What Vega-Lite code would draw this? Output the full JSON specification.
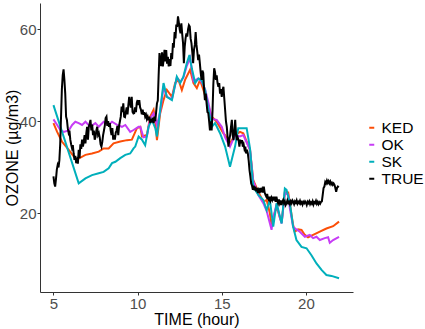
{
  "$schema": "https://vega.github.io/schema/vega-lite/v6.json",
  "width": 313,
  "height": 289,
  "autosize": {"type": "none"},
  "padding": {"left": 40, "top": 3, "right": 72, "bottom": 37},
  "background": "white",
  "config": {
    "view": {"stroke": null},
    "font": "Liberation Sans",
    "axis": {"grid": false, "domainColor": "#333333", "tickColor": "#333333", "labelColor": "#4D4D4D", "titleColor": "#000000", "titleFontWeight": "normal", "labelFontSize": 15, "titleFontSize": 16, "tickSize": 3, "domainWidth": 1, "tickWidth": 1, "labelPadding": 1}
  },
  "data": {"values": [
{"s":"KED","h":5.00,"v":39.6},{"s":"KED","h":5.22,"v":37.7},{"s":"KED","h":5.50,"v":35.6},{"s":"KED","h":5.91,"v":33.8},{"s":"KED","h":6.30,"v":31.9},{"s":"KED","h":6.50,"v":31.9},{"s":"KED","h":6.90,"v":32.7},{"s":"KED","h":7.29,"v":33.0},{"s":"KED","h":7.69,"v":33.4},{"s":"KED","h":7.98,"v":34.1},{"s":"KED","h":8.28,"v":34.1},{"s":"KED","h":8.57,"v":35.2},{"s":"KED","h":8.97,"v":35.6},{"s":"KED","h":9.37,"v":35.9},{"s":"KED","h":9.66,"v":36.0},{"s":"KED","h":9.96,"v":38.5},{"s":"KED","h":10.16,"v":38.8},{"s":"KED","h":10.26,"v":36.7},{"s":"KED","h":10.55,"v":37.0},{"s":"KED","h":10.75,"v":41.0},{"s":"KED","h":10.95,"v":42.5},{"s":"KED","h":11.05,"v":40.0},{"s":"KED","h":11.15,"v":35.9},{"s":"KED","h":11.34,"v":41.7},{"s":"KED","h":11.54,"v":44.6},{"s":"KED","h":11.74,"v":46.8},{"s":"KED","h":12.04,"v":45.3},{"s":"KED","h":12.23,"v":48.3},{"s":"KED","h":12.43,"v":49.0},{"s":"KED","h":12.63,"v":46.8},{"s":"KED","h":12.82,"v":49.0},{"s":"KED","h":13.12,"v":51.2},{"s":"KED","h":13.32,"v":48.3},{"s":"KED","h":13.52,"v":47.2},{"s":"KED","h":13.71,"v":49.0},{"s":"KED","h":13.91,"v":46.8},{"s":"KED","h":14.21,"v":43.2},{"s":"KED","h":14.41,"v":41.0},{"s":"KED","h":14.70,"v":39.9},{"s":"KED","h":15.09,"v":37.4},{"s":"KED","h":15.20,"v":37.0},{"s":"KED","h":15.49,"v":35.2},{"s":"KED","h":15.79,"v":37.0},{"s":"KED","h":16.08,"v":37.7},{"s":"KED","h":16.28,"v":37.4},{"s":"KED","h":16.68,"v":33.8},{"s":"KED","h":16.87,"v":27.2},{"s":"KED","h":17.20,"v":24.5},{"s":"KED","h":17.47,"v":22.5},{"s":"KED","h":17.67,"v":22.9},{"s":"KED","h":17.86,"v":20.0},{"s":"KED","h":17.96,"v":17.5},{"s":"KED","h":18.06,"v":19.0},{"s":"KED","h":18.26,"v":21.5},{"s":"KED","h":18.46,"v":19.0},{"s":"KED","h":18.56,"v":18.0},{"s":"KED","h":18.75,"v":24.5},{"s":"KED","h":18.95,"v":24.5},{"s":"KED","h":19.05,"v":22.0},{"s":"KED","h":19.24,"v":17.5},{"s":"KED","h":19.34,"v":16.0},{"s":"KED","h":19.54,"v":16.5},{"s":"KED","h":19.74,"v":16.4},{"s":"KED","h":19.94,"v":15.3},{"s":"KED","h":20.13,"v":14.8},{"s":"KED","h":20.43,"v":15.3},{"s":"KED","h":20.83,"v":16.0},{"s":"KED","h":21.22,"v":16.7},{"s":"KED","h":21.62,"v":17.2},{"s":"KED","h":21.97,"v":18.2},
{"s":"OK","h":5.00,"v":40.4},{"s":"OK","h":5.22,"v":39.2},{"s":"OK","h":5.41,"v":38.1},{"s":"OK","h":5.61,"v":37.7},{"s":"OK","h":5.91,"v":38.0},{"s":"OK","h":6.11,"v":39.2},{"s":"OK","h":6.30,"v":39.9},{"s":"OK","h":6.50,"v":39.6},{"s":"OK","h":6.70,"v":39.2},{"s":"OK","h":6.90,"v":39.9},{"s":"OK","h":7.19,"v":38.8},{"s":"OK","h":7.49,"v":39.6},{"s":"OK","h":7.69,"v":38.8},{"s":"OK","h":7.98,"v":39.9},{"s":"OK","h":8.28,"v":39.2},{"s":"OK","h":8.48,"v":39.9},{"s":"OK","h":8.78,"v":39.2},{"s":"OK","h":9.07,"v":38.8},{"s":"OK","h":9.27,"v":39.2},{"s":"OK","h":9.56,"v":37.7},{"s":"OK","h":9.76,"v":38.1},{"s":"OK","h":10.06,"v":38.8},{"s":"OK","h":10.16,"v":38.8},{"s":"OK","h":10.35,"v":36.5},{"s":"OK","h":10.55,"v":36.7},{"s":"OK","h":10.75,"v":40.6},{"s":"OK","h":10.95,"v":41.7},{"s":"OK","h":11.15,"v":39.2},{"s":"OK","h":11.34,"v":42.0},{"s":"OK","h":11.54,"v":47.5},{"s":"OK","h":11.74,"v":45.3},{"s":"OK","h":12.04,"v":44.8},{"s":"OK","h":12.33,"v":49.5},{"s":"OK","h":12.53,"v":48.5},{"s":"OK","h":12.72,"v":49.5},{"s":"OK","h":12.92,"v":52.0},{"s":"OK","h":13.12,"v":53.8},{"s":"OK","h":13.32,"v":48.7},{"s":"OK","h":13.61,"v":49.3},{"s":"OK","h":13.81,"v":48.5},{"s":"OK","h":14.01,"v":47.0},{"s":"OK","h":14.21,"v":44.0},{"s":"OK","h":14.41,"v":40.5},{"s":"OK","h":14.70,"v":40.3},{"s":"OK","h":15.00,"v":38.8},{"s":"OK","h":15.20,"v":36.5},{"s":"OK","h":15.49,"v":34.5},{"s":"OK","h":15.79,"v":37.0},{"s":"OK","h":16.08,"v":36.7},{"s":"OK","h":16.28,"v":37.0},{"s":"OK","h":16.68,"v":33.8},{"s":"OK","h":16.87,"v":27.0},{"s":"OK","h":17.20,"v":23.8},{"s":"OK","h":17.47,"v":22.2},{"s":"OK","h":17.67,"v":20.5},{"s":"OK","h":17.96,"v":16.4},{"s":"OK","h":18.06,"v":19.0},{"s":"OK","h":18.26,"v":22.0},{"s":"OK","h":18.46,"v":19.0},{"s":"OK","h":18.56,"v":17.8},{"s":"OK","h":18.75,"v":24.5},{"s":"OK","h":18.95,"v":24.0},{"s":"OK","h":19.05,"v":21.0},{"s":"OK","h":19.24,"v":17.1},{"s":"OK","h":19.44,"v":16.5},{"s":"OK","h":19.64,"v":16.0},{"s":"OK","h":19.94,"v":14.9},{"s":"OK","h":20.23,"v":15.3},{"s":"OK","h":20.43,"v":14.6},{"s":"OK","h":20.63,"v":14.9},{"s":"OK","h":20.83,"v":14.2},{"s":"OK","h":21.12,"v":14.6},{"s":"OK","h":21.32,"v":14.8},{"s":"OK","h":21.42,"v":13.6},{"s":"OK","h":21.62,"v":14.2},{"s":"OK","h":21.97,"v":14.9},
{"s":"SK","h":5.00,"v":43.5},{"s":"SK","h":6.50,"v":26.5},{"s":"SK","h":6.90,"v":27.6},{"s":"SK","h":7.29,"v":28.3},{"s":"SK","h":7.69,"v":28.7},{"s":"SK","h":7.98,"v":29.0},{"s":"SK","h":8.28,"v":29.8},{"s":"SK","h":8.48,"v":30.9},{"s":"SK","h":8.68,"v":31.2},{"s":"SK","h":8.97,"v":32.0},{"s":"SK","h":9.27,"v":32.7},{"s":"SK","h":9.56,"v":33.0},{"s":"SK","h":9.76,"v":34.1},{"s":"SK","h":9.86,"v":34.5},{"s":"SK","h":10.06,"v":36.7},{"s":"SK","h":10.26,"v":36.0},{"s":"SK","h":10.45,"v":34.8},{"s":"SK","h":10.65,"v":38.8},{"s":"SK","h":10.85,"v":40.3},{"s":"SK","h":11.05,"v":38.5},{"s":"SK","h":11.15,"v":36.7},{"s":"SK","h":11.34,"v":42.5},{"s":"SK","h":11.54,"v":48.3},{"s":"SK","h":11.74,"v":45.3},{"s":"SK","h":12.04,"v":44.6},{"s":"SK","h":12.33,"v":49.7},{"s":"SK","h":12.53,"v":48.3},{"s":"SK","h":12.72,"v":49.7},{"s":"SK","h":12.92,"v":52.6},{"s":"SK","h":13.08,"v":54.4},{"s":"SK","h":13.22,"v":51.5},{"s":"SK","h":13.42,"v":48.3},{"s":"SK","h":13.61,"v":49.3},{"s":"SK","h":13.81,"v":48.9},{"s":"SK","h":14.01,"v":46.8},{"s":"SK","h":14.21,"v":42.5},{"s":"SK","h":14.41,"v":38.8},{"s":"SK","h":14.60,"v":39.6},{"s":"SK","h":14.90,"v":37.4},{"s":"SK","h":15.20,"v":34.5},{"s":"SK","h":15.49,"v":30.1},{"s":"SK","h":15.79,"v":34.5},{"s":"SK","h":15.98,"v":38.5},{"s":"SK","h":16.28,"v":38.5},{"s":"SK","h":16.48,"v":38.5},{"s":"SK","h":16.68,"v":34.1},{"s":"SK","h":16.87,"v":25.8},{"s":"SK","h":17.17,"v":24.0},{"s":"SK","h":17.47,"v":22.9},{"s":"SK","h":17.67,"v":20.7},{"s":"SK","h":17.86,"v":22.9},{"s":"SK","h":18.06,"v":17.1},{"s":"SK","h":18.26,"v":22.2},{"s":"SK","h":18.56,"v":17.8},{"s":"SK","h":18.75,"v":25.4},{"s":"SK","h":18.85,"v":25.1},{"s":"SK","h":19.05,"v":22.2},{"s":"SK","h":19.24,"v":17.1},{"s":"SK","h":19.44,"v":14.2},{"s":"SK","h":19.74,"v":12.7},{"s":"SK","h":20.04,"v":12.4},{"s":"SK","h":20.33,"v":10.9},{"s":"SK","h":20.63,"v":9.1},{"s":"SK","h":20.93,"v":7.7},{"s":"SK","h":21.22,"v":6.6},{"s":"SK","h":21.52,"v":6.4},{"s":"SK","h":21.97,"v":5.9},
{"s":"TRUE","h":5.00,"v":28.0},{"s":"TRUE","h":5.05,"v":26.5},{"s":"TRUE","h":5.10,"v":25.8},{"s":"TRUE","h":5.15,"v":27.5},{"s":"TRUE","h":5.20,"v":29.5},{"s":"TRUE","h":5.25,"v":30.5},{"s":"TRUE","h":5.30,"v":30.0},{"s":"TRUE","h":5.35,"v":31.5},{"s":"TRUE","h":5.40,"v":35.0},{"s":"TRUE","h":5.45,"v":41.0},{"s":"TRUE","h":5.50,"v":47.0},{"s":"TRUE","h":5.55,"v":50.0},{"s":"TRUE","h":5.60,"v":51.3},{"s":"TRUE","h":5.65,"v":49.0},{"s":"TRUE","h":5.70,"v":46.0},{"s":"TRUE","h":5.75,"v":41.0},{"s":"TRUE","h":5.80,"v":40.3},{"s":"TRUE","h":5.85,"v":38.5},{"s":"TRUE","h":5.90,"v":37.5},{"s":"TRUE","h":5.95,"v":38.0},{"s":"TRUE","h":6.00,"v":36.0},{"s":"TRUE","h":6.05,"v":35.0},{"s":"TRUE","h":6.10,"v":34.2},{"s":"TRUE","h":6.15,"v":34.8},{"s":"TRUE","h":6.20,"v":33.0},{"s":"TRUE","h":6.25,"v":31.6},{"s":"TRUE","h":6.30,"v":32.5},{"s":"TRUE","h":6.35,"v":30.9},{"s":"TRUE","h":6.40,"v":31.5},{"s":"TRUE","h":6.45,"v":30.8},{"s":"TRUE","h":6.50,"v":33.8},{"s":"TRUE","h":6.55,"v":32.0},{"s":"TRUE","h":6.60,"v":35.0},{"s":"TRUE","h":6.65,"v":34.0},{"s":"TRUE","h":6.70,"v":36.0},{"s":"TRUE","h":6.75,"v":34.5},{"s":"TRUE","h":6.80,"v":35.5},{"s":"TRUE","h":6.85,"v":37.0},{"s":"TRUE","h":6.90,"v":35.2},{"s":"TRUE","h":6.95,"v":37.4},{"s":"TRUE","h":7.00,"v":38.8},{"s":"TRUE","h":7.05,"v":36.0},{"s":"TRUE","h":7.10,"v":38.8},{"s":"TRUE","h":7.15,"v":39.5},{"s":"TRUE","h":7.20,"v":40.3},{"s":"TRUE","h":7.25,"v":38.0},{"s":"TRUE","h":7.30,"v":39.3},{"s":"TRUE","h":7.35,"v":37.0},{"s":"TRUE","h":7.40,"v":38.0},{"s":"TRUE","h":7.45,"v":36.0},{"s":"TRUE","h":7.50,"v":36.6},{"s":"TRUE","h":7.55,"v":38.0},{"s":"TRUE","h":7.60,"v":38.8},{"s":"TRUE","h":7.65,"v":37.0},{"s":"TRUE","h":7.70,"v":37.4},{"s":"TRUE","h":7.75,"v":36.5},{"s":"TRUE","h":7.80,"v":35.0},{"s":"TRUE","h":7.85,"v":34.5},{"s":"TRUE","h":7.90,"v":35.5},{"s":"TRUE","h":7.95,"v":37.0},{"s":"TRUE","h":8.00,"v":38.0},{"s":"TRUE","h":8.05,"v":39.0},{"s":"TRUE","h":8.10,"v":40.7},{"s":"TRUE","h":8.15,"v":41.0},{"s":"TRUE","h":8.20,"v":39.0},{"s":"TRUE","h":8.25,"v":40.0},{"s":"TRUE","h":8.30,"v":38.8},{"s":"TRUE","h":8.35,"v":39.6},{"s":"TRUE","h":8.40,"v":38.0},{"s":"TRUE","h":8.45,"v":37.0},{"s":"TRUE","h":8.50,"v":38.5},{"s":"TRUE","h":8.55,"v":36.0},{"s":"TRUE","h":8.60,"v":37.0},{"s":"TRUE","h":8.65,"v":36.0},{"s":"TRUE","h":8.70,"v":37.5},{"s":"TRUE","h":8.75,"v":38.0},{"s":"TRUE","h":8.80,"v":39.0},{"s":"TRUE","h":8.85,"v":37.0},{"s":"TRUE","h":8.90,"v":39.0},{"s":"TRUE","h":8.95,"v":40.0},{"s":"TRUE","h":9.00,"v":41.0},{"s":"TRUE","h":9.05,"v":43.2},{"s":"TRUE","h":9.10,"v":42.0},{"s":"TRUE","h":9.15,"v":43.9},{"s":"TRUE","h":9.20,"v":41.0},{"s":"TRUE","h":9.25,"v":40.9},{"s":"TRUE","h":9.30,"v":42.0},{"s":"TRUE","h":9.35,"v":43.0},{"s":"TRUE","h":9.40,"v":41.5},{"s":"TRUE","h":9.45,"v":43.5},{"s":"TRUE","h":9.50,"v":45.3},{"s":"TRUE","h":9.55,"v":44.0},{"s":"TRUE","h":9.60,"v":43.0},{"s":"TRUE","h":9.65,"v":45.3},{"s":"TRUE","h":9.70,"v":42.0},{"s":"TRUE","h":9.75,"v":41.7},{"s":"TRUE","h":9.80,"v":41.8},{"s":"TRUE","h":9.85,"v":43.0},{"s":"TRUE","h":9.90,"v":42.0},{"s":"TRUE","h":9.95,"v":44.0},{"s":"TRUE","h":10.00,"v":44.6},{"s":"TRUE","h":10.05,"v":43.5},{"s":"TRUE","h":10.10,"v":44.6},{"s":"TRUE","h":10.15,"v":43.0},{"s":"TRUE","h":10.20,"v":42.5},{"s":"TRUE","h":10.25,"v":41.5},{"s":"TRUE","h":10.30,"v":42.5},{"s":"TRUE","h":10.35,"v":41.4},{"s":"TRUE","h":10.40,"v":42.0},{"s":"TRUE","h":10.45,"v":41.0},{"s":"TRUE","h":10.50,"v":41.4},{"s":"TRUE","h":10.55,"v":40.5},{"s":"TRUE","h":10.60,"v":41.0},{"s":"TRUE","h":10.65,"v":40.2},{"s":"TRUE","h":10.70,"v":41.0},{"s":"TRUE","h":10.75,"v":39.6},{"s":"TRUE","h":10.80,"v":40.5},{"s":"TRUE","h":10.85,"v":39.8},{"s":"TRUE","h":10.90,"v":40.8},{"s":"TRUE","h":10.95,"v":39.6},{"s":"TRUE","h":11.00,"v":41.0},{"s":"TRUE","h":11.05,"v":40.0},{"s":"TRUE","h":11.10,"v":42.0},{"s":"TRUE","h":11.15,"v":43.9},{"s":"TRUE","h":11.20,"v":44.5},{"s":"TRUE","h":11.25,"v":50.0},{"s":"TRUE","h":11.30,"v":54.8},{"s":"TRUE","h":11.35,"v":53.0},{"s":"TRUE","h":11.40,"v":52.0},{"s":"TRUE","h":11.45,"v":55.0},{"s":"TRUE","h":11.50,"v":51.9},{"s":"TRUE","h":11.55,"v":53.5},{"s":"TRUE","h":11.60,"v":55.5},{"s":"TRUE","h":11.65,"v":53.0},{"s":"TRUE","h":11.70,"v":55.5},{"s":"TRUE","h":11.75,"v":52.5},{"s":"TRUE","h":11.80,"v":54.0},{"s":"TRUE","h":11.85,"v":51.9},{"s":"TRUE","h":11.90,"v":53.5},{"s":"TRUE","h":11.95,"v":52.0},{"s":"TRUE","h":12.00,"v":54.8},{"s":"TRUE","h":12.05,"v":53.5},{"s":"TRUE","h":12.10,"v":57.0},{"s":"TRUE","h":12.15,"v":56.0},{"s":"TRUE","h":12.20,"v":59.4},{"s":"TRUE","h":12.25,"v":58.0},{"s":"TRUE","h":12.30,"v":61.0},{"s":"TRUE","h":12.35,"v":60.5},{"s":"TRUE","h":12.40,"v":62.8},{"s":"TRUE","h":12.45,"v":61.5},{"s":"TRUE","h":12.50,"v":60.0},{"s":"TRUE","h":12.55,"v":59.1},{"s":"TRUE","h":12.60,"v":61.3},{"s":"TRUE","h":12.65,"v":59.0},{"s":"TRUE","h":12.70,"v":57.0},{"s":"TRUE","h":12.75,"v":52.6},{"s":"TRUE","h":12.80,"v":56.2},{"s":"TRUE","h":12.85,"v":58.0},{"s":"TRUE","h":12.90,"v":59.1},{"s":"TRUE","h":12.95,"v":58.4},{"s":"TRUE","h":13.00,"v":60.0},{"s":"TRUE","h":13.05,"v":60.9},{"s":"TRUE","h":13.10,"v":60.6},{"s":"TRUE","h":13.15,"v":58.0},{"s":"TRUE","h":13.20,"v":57.0},{"s":"TRUE","h":13.25,"v":55.0},{"s":"TRUE","h":13.30,"v":52.6},{"s":"TRUE","h":13.35,"v":55.5},{"s":"TRUE","h":13.40,"v":56.6},{"s":"TRUE","h":13.45,"v":59.4},{"s":"TRUE","h":13.50,"v":56.6},{"s":"TRUE","h":13.55,"v":55.0},{"s":"TRUE","h":13.60,"v":53.3},{"s":"TRUE","h":13.65,"v":54.5},{"s":"TRUE","h":13.70,"v":52.6},{"s":"TRUE","h":13.75,"v":50.5},{"s":"TRUE","h":13.80,"v":49.0},{"s":"TRUE","h":13.85,"v":51.0},{"s":"TRUE","h":13.90,"v":50.5},{"s":"TRUE","h":13.95,"v":47.0},{"s":"TRUE","h":14.00,"v":44.6},{"s":"TRUE","h":14.05,"v":46.0},{"s":"TRUE","h":14.10,"v":43.9},{"s":"TRUE","h":14.15,"v":42.0},{"s":"TRUE","h":14.20,"v":41.8},{"s":"TRUE","h":14.25,"v":40.0},{"s":"TRUE","h":14.30,"v":38.0},{"s":"TRUE","h":14.35,"v":40.0},{"s":"TRUE","h":14.40,"v":38.0},{"s":"TRUE","h":14.45,"v":42.0},{"s":"TRUE","h":14.50,"v":48.0},{"s":"TRUE","h":14.55,"v":51.5},{"s":"TRUE","h":14.60,"v":50.7},{"s":"TRUE","h":14.65,"v":49.0},{"s":"TRUE","h":14.70,"v":50.0},{"s":"TRUE","h":14.75,"v":48.3},{"s":"TRUE","h":14.80,"v":47.5},{"s":"TRUE","h":14.85,"v":48.3},{"s":"TRUE","h":14.90,"v":46.0},{"s":"TRUE","h":14.95,"v":47.0},{"s":"TRUE","h":15.00,"v":45.3},{"s":"TRUE","h":15.05,"v":46.8},{"s":"TRUE","h":15.10,"v":47.5},{"s":"TRUE","h":15.15,"v":45.0},{"s":"TRUE","h":15.20,"v":42.5},{"s":"TRUE","h":15.25,"v":40.0},{"s":"TRUE","h":15.30,"v":38.8},{"s":"TRUE","h":15.35,"v":36.5},{"s":"TRUE","h":15.40,"v":34.5},{"s":"TRUE","h":15.45,"v":36.0},{"s":"TRUE","h":15.50,"v":37.0},{"s":"TRUE","h":15.55,"v":38.8},{"s":"TRUE","h":15.60,"v":40.3},{"s":"TRUE","h":15.65,"v":37.0},{"s":"TRUE","h":15.70,"v":35.9},{"s":"TRUE","h":15.75,"v":38.0},{"s":"TRUE","h":15.80,"v":40.3},{"s":"TRUE","h":15.85,"v":37.0},{"s":"TRUE","h":15.90,"v":35.9},{"s":"TRUE","h":15.95,"v":36.5},{"s":"TRUE","h":16.00,"v":35.9},{"s":"TRUE","h":16.05,"v":34.5},{"s":"TRUE","h":16.10,"v":36.0},{"s":"TRUE","h":16.15,"v":35.2},{"s":"TRUE","h":16.20,"v":35.9},{"s":"TRUE","h":16.25,"v":34.5},{"s":"TRUE","h":16.30,"v":35.0},{"s":"TRUE","h":16.35,"v":34.0},{"s":"TRUE","h":16.40,"v":34.5},{"s":"TRUE","h":16.45,"v":33.0},{"s":"TRUE","h":16.50,"v":33.8},{"s":"TRUE","h":16.55,"v":33.0},{"s":"TRUE","h":16.60,"v":31.5},{"s":"TRUE","h":16.65,"v":29.4},{"s":"TRUE","h":16.70,"v":28.0},{"s":"TRUE","h":16.75,"v":26.5},{"s":"TRUE","h":16.80,"v":26.0},{"s":"TRUE","h":16.85,"v":25.1},{"s":"TRUE","h":16.90,"v":26.0},{"s":"TRUE","h":16.95,"v":25.0},{"s":"TRUE","h":17.00,"v":25.8},{"s":"TRUE","h":17.05,"v":24.8},{"s":"TRUE","h":17.10,"v":25.5},{"s":"TRUE","h":17.15,"v":24.4},{"s":"TRUE","h":17.20,"v":25.0},{"s":"TRUE","h":17.25,"v":24.4},{"s":"TRUE","h":17.30,"v":25.5},{"s":"TRUE","h":17.35,"v":24.6},{"s":"TRUE","h":17.40,"v":25.2},{"s":"TRUE","h":17.45,"v":24.5},{"s":"TRUE","h":17.50,"v":25.8},{"s":"TRUE","h":17.55,"v":24.5},{"s":"TRUE","h":17.60,"v":24.0},{"s":"TRUE","h":17.65,"v":23.6},{"s":"TRUE","h":17.70,"v":24.2},{"s":"TRUE","h":17.75,"v":23.2},{"s":"TRUE","h":17.80,"v":22.9},{"s":"TRUE","h":17.85,"v":23.6},{"s":"TRUE","h":17.90,"v":22.8},{"s":"TRUE","h":17.95,"v":23.4},{"s":"TRUE","h":18.00,"v":22.9},{"s":"TRUE","h":18.05,"v":23.6},{"s":"TRUE","h":18.10,"v":22.8},{"s":"TRUE","h":18.15,"v":23.6},{"s":"TRUE","h":18.20,"v":22.5},{"s":"TRUE","h":18.25,"v":23.6},{"s":"TRUE","h":18.30,"v":22.7},{"s":"TRUE","h":18.35,"v":22.2},{"s":"TRUE","h":18.40,"v":23.0},{"s":"TRUE","h":18.45,"v":22.2},{"s":"TRUE","h":18.50,"v":22.8},{"s":"TRUE","h":18.55,"v":21.8},{"s":"TRUE","h":18.60,"v":22.5},{"s":"TRUE","h":18.65,"v":22.9},{"s":"TRUE","h":18.70,"v":22.2},{"s":"TRUE","h":18.75,"v":22.6},{"s":"TRUE","h":18.80,"v":21.8},{"s":"TRUE","h":18.85,"v":22.2},{"s":"TRUE","h":18.90,"v":22.8},{"s":"TRUE","h":18.95,"v":22.2},{"s":"TRUE","h":19.00,"v":22.5},{"s":"TRUE","h":19.05,"v":22.0},{"s":"TRUE","h":19.10,"v":22.6},{"s":"TRUE","h":19.15,"v":22.2},{"s":"TRUE","h":19.20,"v":22.8},{"s":"TRUE","h":19.25,"v":22.5},{"s":"TRUE","h":19.30,"v":22.0},{"s":"TRUE","h":19.35,"v":22.6},{"s":"TRUE","h":19.40,"v":22.3},{"s":"TRUE","h":19.45,"v":22.8},{"s":"TRUE","h":19.50,"v":22.1},{"s":"TRUE","h":19.55,"v":22.5},{"s":"TRUE","h":19.60,"v":22.2},{"s":"TRUE","h":19.65,"v":22.7},{"s":"TRUE","h":19.70,"v":22.1},{"s":"TRUE","h":19.75,"v":22.4},{"s":"TRUE","h":19.80,"v":21.9},{"s":"TRUE","h":19.85,"v":22.5},{"s":"TRUE","h":19.90,"v":22.2},{"s":"TRUE","h":19.95,"v":22.6},{"s":"TRUE","h":20.00,"v":22.3},{"s":"TRUE","h":20.05,"v":21.8},{"s":"TRUE","h":20.10,"v":22.5},{"s":"TRUE","h":20.15,"v":22.2},{"s":"TRUE","h":20.20,"v":22.6},{"s":"TRUE","h":20.25,"v":22.0},{"s":"TRUE","h":20.30,"v":22.4},{"s":"TRUE","h":20.35,"v":22.1},{"s":"TRUE","h":20.40,"v":22.6},{"s":"TRUE","h":20.45,"v":21.9},{"s":"TRUE","h":20.50,"v":22.4},{"s":"TRUE","h":20.55,"v":22.2},{"s":"TRUE","h":20.60,"v":22.7},{"s":"TRUE","h":20.65,"v":22.1},{"s":"TRUE","h":20.70,"v":22.5},{"s":"TRUE","h":20.75,"v":22.0},{"s":"TRUE","h":20.80,"v":22.4},{"s":"TRUE","h":20.85,"v":22.1},{"s":"TRUE","h":20.90,"v":22.5},{"s":"TRUE","h":20.95,"v":22.6},{"s":"TRUE","h":21.00,"v":24.0},{"s":"TRUE","h":21.05,"v":25.5},{"s":"TRUE","h":21.10,"v":25.8},{"s":"TRUE","h":21.15,"v":26.8},{"s":"TRUE","h":21.20,"v":26.5},{"s":"TRUE","h":21.25,"v":27.1},{"s":"TRUE","h":21.30,"v":26.6},{"s":"TRUE","h":21.35,"v":27.0},{"s":"TRUE","h":21.40,"v":26.5},{"s":"TRUE","h":21.45,"v":26.9},{"s":"TRUE","h":21.50,"v":26.3},{"s":"TRUE","h":21.55,"v":26.6},{"s":"TRUE","h":21.60,"v":26.2},{"s":"TRUE","h":21.65,"v":26.5},{"s":"TRUE","h":21.70,"v":26.2},{"s":"TRUE","h":21.75,"v":25.5},{"s":"TRUE","h":21.80,"v":24.7},{"s":"TRUE","h":21.85,"v":25.5},{"s":"TRUE","h":21.90,"v":25.8},{"s":"TRUE","h":21.95,"v":25.6}
  ]},
  "mark": {"type": "line", "strokeWidth": 2, "interpolate": "linear"},
  "encoding": {
    "x": {"field": "h", "type": "quantitative", "title": "TIME (hour)", "scale": {"domain": [4.2, 22.8], "nice": false, "zero": false}, "axis": {"values": [5, 10, 15, 20], "titlePadding": 0}},
    "y": {"field": "v", "type": "quantitative", "title": "OZONE (µg/m3)", "scale": {"domain": [2.9, 65.7], "nice": false, "zero": false}, "axis": {"values": [20, 40, 60], "titlePadding": -1}},
    "color": {"field": "s", "type": "nominal", "title": null, "scale": {"domain": ["KED", "OK", "SK", "TRUE"], "range": ["#FC4E07", "#C73DF5", "#00AFBB", "#000000"]},
      "legend": {"orient": "none", "legendX": 324, "legendY": 117, "symbolType": "stroke", "symbolSize": 25, "symbolStrokeWidth": 2, "labelFontSize": 15.5, "labelColor": "#000000", "rowPadding": 0, "padding": 0, "labelOffset": 2}}
  }
}
